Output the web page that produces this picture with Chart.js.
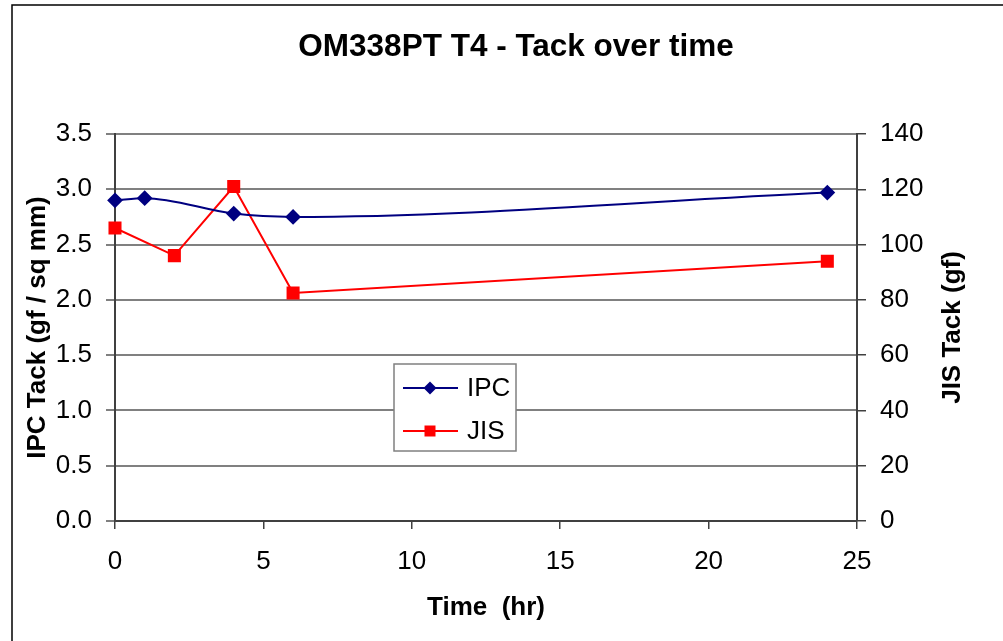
<!DOCTYPE html>
<html>
<head>
<meta charset="utf-8">
<script src="https://cdn.jsdelivr.net/npm/chart.js@4/dist/chart.umd.min.js"></script>
<style>
  html, body { margin: 0; padding: 0; background: #fff; }
  #wrap { width: 1003px; height: 641px; position: relative; }
</style>
</head>
<body>
<div id="wrap"><canvas id="tack_chart" width="1003" height="641"></canvas></div>
<script>
// values
const ipcTime = [0, 1, 4, 6, 24]
const ipcTack = [2.90, 2.92, 2.78, 2.75, 2.97]
const jisTime = [0, 2, 4, 6, 24]
const jisTack = [106, 96, 121, 82.5, 94]

const xTicks = [0, 5, 10, 15, 20, 25]
const ipcTicks = [0, 0.5, 1, 1.5, 2, 2.5, 3, 3.5]
const jisTicks = [0, 20, 40, 60, 80, 100, 120, 140]

const chartTitle = "OM338PT T4 - Tack over time"
const xTitle = "Time  (hr)"
const ipcTitle = "IPC Tack (gf / sq mm)"
const jisTitle = "JIS Tack (gf)"

const FONT = "'Liberation Sans', Arial, sans-serif"

function toPoints(xs, ys) {
    return xs.map((x, i) => ({x: x, y: ys[i]}))
}

// titles, frame and the boxed legend inside the plot
const decorPlugin = {
    id: 'decor',
    beforeDraw(chart) {
        const ctx = chart.ctx
        ctx.save()
        ctx.fillStyle = '#fff'
        ctx.fillRect(0, 0, chart.width, chart.height)
        ctx.strokeStyle = '#000'
        ctx.lineWidth = 1.5
        ctx.strokeRect(12, 5, chart.width + 20, chart.height + 20)
        ctx.restore()
    },
    afterDraw(chart) {
        const ctx = chart.ctx
        const area = chart.chartArea
        const midY = (area.top + area.bottom) / 2
        ctx.save()
        ctx.fillStyle = '#000'
        ctx.textAlign = 'center'
        ctx.textBaseline = 'middle'

        ctx.font = "bold 31.5px " + FONT
        ctx.fillText(chartTitle, 516, 47)

        ctx.font = "bold 26px " + FONT
        ctx.fillText(xTitle, (area.left + area.right) / 2, 608)

        ctx.save()
        ctx.translate(38, midY)
        ctx.rotate(-Math.PI / 2)
        ctx.fillText(ipcTitle, 0, 0)
        ctx.restore()

        ctx.save()
        ctx.translate(953, midY)
        ctx.rotate(-Math.PI / 2)
        ctx.fillText(jisTitle, 0, 0)
        ctx.restore()

        // legend box
        const bx = 394, by = 364, bw = 122, bh = 87
        ctx.fillStyle = '#fff'
        ctx.fillRect(bx, by, bw, bh)
        ctx.strokeStyle = '#808080'
        ctx.lineWidth = 1.5
        ctx.strokeRect(bx, by, bw, bh)

        const rows = [388, 431]
        chart.data.datasets.forEach((ds, i) => {
            const y = rows[i]
            ctx.strokeStyle = ds.borderColor
            ctx.lineWidth = 2
            ctx.beginPath()
            ctx.moveTo(403, y)
            ctx.lineTo(458, y)
            ctx.stroke()
            ctx.fillStyle = ds.pointBackgroundColor
            ctx.beginPath()
            if (ds.pointStyle === 'rectRot') {
                const r = 6.5
                ctx.moveTo(430 - r, y)
                ctx.lineTo(430, y - r)
                ctx.lineTo(430 + r, y)
                ctx.lineTo(430, y + r)
                ctx.closePath()
            } else {
                ctx.rect(430 - 5.5, y - 5.5, 11, 11)
            }
            ctx.fill()
            ctx.fillStyle = '#000'
            ctx.textAlign = 'left'
            ctx.font = "26px " + FONT
            ctx.fillText(ds.label, 467, y + 1)
        })
        ctx.restore()
    }
}

const tickFont = {family: FONT, size: 26}

new Chart(document.getElementById('tack_chart'), {
    type: 'line',
    data: {
        datasets: [
            {
                label: 'IPC',
                data: toPoints(ipcTime, ipcTack),
                yAxisID: 'yIpc',
                borderColor: '#000080',
                backgroundColor: '#000080',
                pointBackgroundColor: '#000080',
                pointBorderColor: '#000080',
                pointStyle: 'rectRot',
                pointRadius: 6.5,
                borderWidth: 2,
                cubicInterpolationMode: 'monotone',
                clip: false
            },
            {
                label: 'JIS',
                data: toPoints(jisTime, jisTack),
                yAxisID: 'yJis',
                borderColor: '#ff0000',
                backgroundColor: '#ff0000',
                pointBackgroundColor: '#ff0000',
                pointBorderColor: '#ff0000',
                pointStyle: 'rect',
                pointRadius: 7.8,
                borderWidth: 2,
                tension: 0,
                clip: false
            }
        ]
    },
    options: {
        responsive: false,
        animation: false,
        devicePixelRatio: 1,
        layout: {padding: {top: 134, left: 0, right: 0, bottom: 0}},
        plugins: {
            legend: {display: false},
            title: {display: false},
            tooltip: {enabled: false}
        },
        scales: {
            x: {
                type: 'linear',
                min: 0,
                max: 25,
                afterFit: (scale) => { scale.height = 120 },
                afterBuildTicks: (scale) => { scale.ticks = xTicks.map(v => ({value: v})) },
                grid: {drawOnChartArea: false, drawTicks: true, tickLength: 8, color: '#404040', lineWidth: 1.5},
                border: {color: '#404040', width: 2},
                ticks: {font: tickFont, color: '#000', padding: 17, maxRotation: 0}
            },
            yIpc: {
                type: 'linear',
                position: 'left',
                min: 0,
                max: 3.5,
                afterFit: (scale) => { scale.width = 115 },
                afterBuildTicks: (scale) => { scale.ticks = ipcTicks.map(v => ({value: v})) },
                grid: {color: '#808080', lineWidth: 2, tickLength: 9},
                border: {color: '#404040', width: 2},
                ticks: {font: tickFont, color: '#000', padding: 14, callback: (v) => v.toFixed(1)}
            },
            yJis: {
                type: 'linear',
                position: 'right',
                min: 0,
                max: 140,
                afterFit: (scale) => { scale.width = 146 },
                afterBuildTicks: (scale) => { scale.ticks = jisTicks.map(v => ({value: v})) },
                grid: {drawOnChartArea: false, color: '#404040', lineWidth: 1.5, tickLength: 9},
                border: {color: '#404040', width: 2},
                ticks: {font: tickFont, color: '#000', padding: 14}
            }
        }
    },
    plugins: [decorPlugin]
})
</script>
</body>
</html>
